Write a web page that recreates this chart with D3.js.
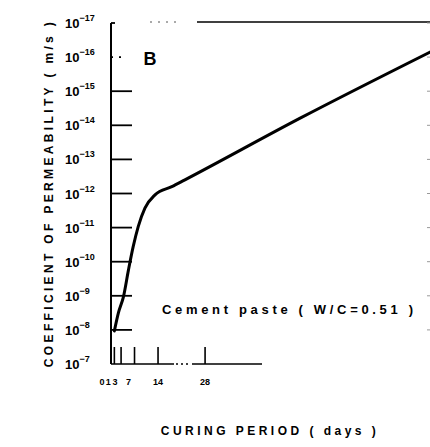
<!DOCTYPE html>
<html>
<head>
<meta charset="utf-8">
<script src="https://cdn.jsdelivr.net/npm/d3@7"></script>
<style>
  body { margin: 0; background: #fff; }
  svg { display: block; }
  text { font-family: "Liberation Sans", Arial, sans-serif; font-weight: bold; fill: #000; }
</style>
</head>
<body>
<svg id="chart" width="430" height="447"></svg>
<script>
// curing period (days) vs log10 of permeability coefficient (m/s)
var curingDays = [1, 2.2, 3.7, 5.2, 6.6, 8.1, 10.1, 13.1, 18.1, 22, 56.3, 95];
var logPermeability = [-7.97, -8.5, -8.97, -9.76, -10.44, -11.03, -11.57, -11.96, -12.2, -12.4, -14.21, -16.15];

var yTickExps = [-7, -8, -9, -10, -11, -12, -13, -14, -15, -16, -17];
var xTickDays = [1, 3, 7, 14, 28];
var xTickLabels = [0, 1, 3, 7, 14, 28];

function PermeabilityChart(){

}

PermeabilityChart.prototype.render = function(opts){
	this.opts = opts;
	this.svg = d3.select('#chart');
	this.x = d3.scaleLinear().domain([0, 100]).range([opts.left, opts.left + 336]);
	this.y = d3.scaleLog().domain([1e-7, 1e-17]).range([opts.bottom, opts.top]);

	this.addFrame();
	this.addYTicks();
	this.addXTicks();
	this.addCurve();
	this.addTexts();
}

PermeabilityChart.prototype.addFrame = function(){
	var o = this.opts, svg = this.svg;
	// y axis
	svg.append('line')
		.attr('x1', o.left).attr('x2', o.left)
		.attr('y1', o.top).attr('y2', o.bottom)
		.attr('stroke', '#000').attr('stroke-width', 2);
	// x axis, faded out in the scan after ~262px
	svg.append('line')
		.attr('x1', o.left).attr('x2', 174)
		.attr('y1', o.bottom).attr('y2', o.bottom)
		.attr('stroke', '#000').attr('stroke-width', 1.6);
	svg.append('line')
		.attr('x1', 176).attr('x2', 188)
		.attr('y1', o.bottom).attr('y2', o.bottom)
		.attr('stroke', '#000').attr('stroke-width', 1.6)
		.attr('stroke-dasharray', '2,3');
	svg.append('line')
		.attr('x1', 192).attr('x2', 262)
		.attr('y1', o.bottom).attr('y2', o.bottom)
		.attr('stroke', '#000').attr('stroke-width', 1.6);
	// top frame line
	svg.append('line')
		.attr('x1', 197).attr('x2', 430)
		.attr('y1', o.top - 1).attr('y2', o.top - 1)
		.attr('stroke', '#000').attr('stroke-width', 1.5);
	svg.append('line')
		.attr('x1', 150).attr('x2', 178)
		.attr('y1', o.top - 1).attr('y2', o.top - 1)
		.attr('stroke', '#555').attr('stroke-width', 1)
		.attr('stroke-dasharray', '2,6');
}

PermeabilityChart.prototype.addYTicks = function(){
	var self = this, o = this.opts;
	var g = this.svg.append('g').attr('class', 'y-ticks');

	yTickExps.forEach(function(e){
		var yy = self.y(Math.pow(10, e));
		if (e !== -7) {
			var len = e === -17 ? 4 : (e === -16 ? 16 : 21);
			g.append('line')
				.attr('x1', o.left).attr('x2', o.left + len)
				.attr('y1', yy).attr('y2', yy)
				.attr('stroke', '#000').attr('stroke-width', 1.8)
				.attr('stroke-dasharray', e === -16 ? '2,6' : null);
			// right hand axis ticks, mostly cropped away
			g.append('line')
				.attr('x1', 427).attr('x2', 430)
				.attr('y1', yy).attr('y2', yy)
				.attr('stroke', '#999').attr('stroke-width', 1);
		}
		var t = g.append('text')
			.attr('x', 65).attr('y', yy + 5)
			.style('font-size', '13px');
		t.append('tspan').text('10');
		t.append('tspan')
			.attr('dy', -7)
			.style('font-size', '9px')
			.text('\u2212' + Math.abs(e));
	});
}

PermeabilityChart.prototype.addXTicks = function(){
	var self = this, o = this.opts;
	var g = this.svg.append('g').attr('class', 'x-ticks');

	xTickDays.forEach(function(d){
		g.append('line')
			.attr('x1', self.x(d)).attr('x2', self.x(d))
			.attr('y1', o.bottom).attr('y2', o.bottom - 17)
			.attr('stroke', '#000').attr('stroke-width', 1.6);
	});

	// the small day labels are crowded to the left in the original
	var nudge = function(d){ return d === 0 ? -9 : (d < 10 ? -6 : 0); };
	xTickLabels.forEach(function(d){
		g.append('text')
			.attr('x', self.x(d) + nudge(d))
			.attr('y', o.bottom + 21)
			.attr('text-anchor', 'middle')
			.style('font-size', '9px')
			.text(d);
	});
}

PermeabilityChart.prototype.addCurve = function(){
	var self = this;
	var pts = curingDays.map(function(d, i){ return [d, Math.pow(10, logPermeability[i])]; });
	var line = d3.line()
		.x(function(p){ return self.x(p[0]); })
		.y(function(p){ return self.y(p[1]); })
		.curve(d3.curveMonotoneX);

	this.svg.append('path')
		.datum(pts)
		.attr('d', line)
		.attr('fill', 'none')
		.attr('stroke', '#000')
		.attr('stroke-width', 3)
		.attr('stroke-linecap', 'round');
}

// spread a label with letter-spacing until it covers the wanted width
PermeabilityChart.prototype.spreadText = function(t, width){
	var n = t.text().length;
	var w = t.node().getComputedTextLength();
	if (n > 1 && w < width) t.style('letter-spacing', ((width - w) / (n - 1)) + 'px');
	return t;
}

PermeabilityChart.prototype.addTexts = function(){
	var svg = this.svg;

	var yt = svg.append('text')
		.attr('transform', 'translate(53,193) rotate(-90)')
		.attr('text-anchor', 'middle')
		.style('font-size', '12px')
		.text('COEFFICIENT OF PERMEABILITY ( m/s )');
	this.spreadText(yt, 345);

	var xt = svg.append('text')
		.attr('x', 270).attr('y', 435)
		.attr('text-anchor', 'middle')
		.style('font-size', '12px')
		.text('CURING PERIOD ( days )');
	this.spreadText(xt, 215);

	var ct = svg.append('text')
		.attr('x', 162).attr('y', 314)
		.style('font-size', '13px')
		.text('Cement paste ( W/C=0.51 )');
	this.spreadText(ct, 251);

	svg.append('text')
		.attr('x', 150).attr('y', 65)
		.attr('text-anchor', 'middle')
		.style('font-size', '18px')
		.text('B');
}

new PermeabilityChart().render({ left: 111, top: 23, bottom: 364 });
</script>
</body>
</html>
